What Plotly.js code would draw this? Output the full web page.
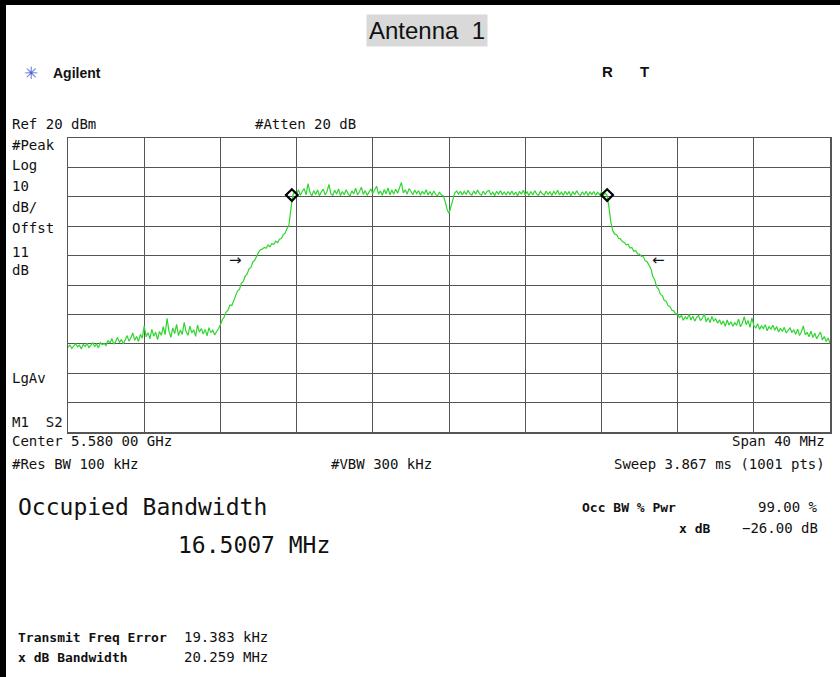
<!DOCTYPE html>
<html>
<head>
<meta charset="utf-8">
<script src="https://cdn.plot.ly/plotly-3.0.1.min.js"></script>
<style>
html,body{margin:0;padding:0;background:#fff;}
#chart{width:840px;height:677px;}
</style>
</head>
<body>
<div id="chart"></div>
<script>
// Sweep: start frequency and step (MHz) – analyzer sweep grid (Center 5.580 GHz, Span 40 MHz)
const sweepStartMHz = 5560;
const sweepStepMHz = 0.1;

// Trace levels (dBm), one per sweep point
const traceLevels = [
-51.2,-50.4,-51.6,-50.8,-49.9,-51.0,-50.5,-51.8,-50.2,-50.9,
-49.8,-51.3,-50.6,-49.7,-50.9,-50.1,-51.4,-49.6,-50.3,-49.9,
-50.6,-48.9,-49.8,-48.2,-50.1,-49.3,-47.8,-49.6,-48.5,-50.0,
-48.7,-47.2,-49.1,-48.0,-46.3,-48.8,-47.5,-49.2,-46.8,-48.1,
-43.9,-47.6,-46.2,-48.3,-45.1,-47.4,-46.0,-48.6,-45.8,-47.1,
-44.2,-46.9,-41.3,-45.7,-47.8,-44.6,-46.5,-43.4,-47.2,-45.3,
-46.8,-42.7,-45.9,-47.1,-44.0,-46.3,-45.2,-47.5,-43.6,-46.0,
-44.8,-46.7,-45.1,-47.3,-44.5,-46.2,-45.4,-47.0,-45.8,-44.9,
-43.5,-41.8,-40.9,-39.2,-38.6,-36.8,-37.0,-35.1,-33.9,-32.0,
-31.5,-29.4,-28.8,-27.0,-26.3,-24.5,-24.1,-22.2,-21.6,-20.0,
-18.9,-18.0,-17.8,-17.2,-17.5,-16.4,-17.0,-15.9,-16.2,-15.1,
-15.6,-14.4,-14.2,-12.9,-12.3,-10.8,-9.6,-4.2,0.4,
1.8,
0.9,2.4,0.5,1.9,2.8,0.7,4.5,1.5,0.3,2.1,
0.8,2.3,0.4,1.7,2.6,0.6,1.9,4.2,1.0,0.5,
2.2,0.9,2.7,0.4,1.8,0.7,2.4,1.1,0.2,2.0,
1.0,2.9,0.6,1.7,3.3,0.8,2.1,0.5,1.8,2.7,
1.1,2.4,3.6,0.9,2.0,0.5,2.5,1.0,3.0,0.7,
2.3,0.9,2.6,1.2,3.2,4.9,1.3,2.4,0.9,2.8,
1.9,0.7,2.3,1.1,2.1,0.5,1.9,0.9,2.4,0.6,
1.8,0.4,2.0,0.8,0.3,1.6,0.6,
0.4,-1.6,-4.3,-5.7,-3.6,-0.7,1.3,
2.0,0.9,1.9,0.6,1.8,0.8,
2.2,1.0,0.6,2.0,0.9,2.3,1.1,0.5,1.9,0.8,
1.8,2.2,0.6,1.6,0.4,1.9,0.9,2.1,0.6,1.7,
0.5,1.8,0.8,2.0,0.6,1.6,0.3,1.9,0.9,2.2,
0.8,1.7,0.4,1.8,0.6,2.1,0.9,0.5,1.9,1.0,
0.6,2.0,0.8,1.7,0.4,1.8,0.9,2.2,0.6,1.6,
0.5,1.9,0.8,1.7,0.3,1.8,0.7,2.1,0.9,0.5,
1.7,0.6,1.9,0.4,1.6,0.8,1.8,0.5,1.5,0.7,
1.6,0.5,1.2,
0.5,-3.6,-8.8,-11.6,-12.7,-12.9,-14.1,-14.3,-15.2,-15.5,
-16.3,-16.1,-17.4,-17.2,-18.5,-18.3,-19.4,-19.5,-20.3,-20.4,
-21.8,-22.1,-23.6,-24.5,-27.1,-28.3,-30.6,-31.4,-33.2,-33.6,
-35.3,-35.5,-37.1,-37.3,-38.6,-38.8,-39.9,-39.7,
-41.2,-40.3,-42.0,-40.8,-41.6,-39.9,-41.9,-40.6,-42.3,-41.0,
-40.4,-42.1,-41.3,-39.8,-42.5,-41.1,-42.8,-40.7,-42.2,-41.5,
-43.0,-41.8,-43.4,-42.2,-44.1,-41.9,-43.6,-42.5,-44.0,-42.8,
-43.7,-41.6,-44.2,-42.9,-40.8,-43.5,-42.1,-44.4,-41.2,-43.8,
-44.6,-43.2,-45.1,-43.9,-44.8,-43.5,-45.6,-44.2,-45.0,-43.7,
-45.4,-44.1,-46.0,-44.7,-45.8,-44.4,-46.3,-45.2,-44.6,-46.1,
-45.3,-46.8,-45.0,-47.2,-45.9,-43.9,-47.0,-46.1,-47.6,-45.7,
-47.9,-46.4,-48.3,-47.1,-46.0,-48.7,-47.5,-49.2,-48.0,-49.8
];

// Occupied bandwidth markers (MHz, dBm)
const obwMarkerFreqs = [5571.75, 5588.3];
const obwMarkerLevels = [0.6, 0.6];

// x dB arrows (MHz, dBm)
const xdbArrowFreqs = [5568.8, 5591.0];
const xdbArrowLevels = [-21.5, -21.5];
const xdbArrowGlyphs = ['\u2192', '\u2190'];

// Axis settings
const freqRange = [5560, 5600];
const levelRange = [-80, 20];

// Text labels
const leftLabels = ['#Peak', 'Log', '10', 'dB/', 'Offst', '11', 'dB'];

const W = 840, H = 677, L = 68, R = 10, T = 138, B = 245;
const PW = W - L - R, PH = H - T - B;
function px(x) { return (x - L) / PW; }
function py(y) { return (H - B - y) / PH; }

const mono = 'DejaVu Sans Mono, Liberation Mono, monospace';
const ann = [];
function txt(text, x, y, opts) {
  opts = opts || {};
  ann.push({
    xref: 'paper', yref: 'paper', x: px(x), y: py(y),
    xanchor: opts.anchor || 'left', yanchor: 'middle',
    text: text, showarrow: false,
    font: {family: opts.family || mono, size: opts.size || 14, color: opts.color || '#111'},
    bgcolor: opts.bg, borderpad: opts.pad || 0
  });
}

txt('Antenna  1', 427, 30, {anchor: 'center', family: 'Liberation Sans, Arial, sans-serif', size: 24, bg: '#d9d9d9', pad: 2});
txt('\u2733', 23, 73, {family: 'DejaVu Sans', size: 17, color: '#4f5fd0'});
txt('<b>Agilent</b>', 52, 73, {family: 'Liberation Sans, Arial, sans-serif', size: 14});
txt('<b>R</b>', 601, 72, {family: 'Liberation Sans, Arial, sans-serif', size: 15});
txt('<b>T</b>', 639, 72, {family: 'Liberation Sans, Arial, sans-serif', size: 15});
txt('Ref 20 dBm', 11, 124);
txt('#Atten 20 dB', 254, 124);
const leftY = [145, 165, 186, 207, 228, 252, 270];
leftLabels.forEach((t, i) => txt(t, 11, leftY[i]));
txt('LgAv', 11, 378);
txt('M1  S2', 11, 422);
txt('Center 5.580 00 GHz', 11, 441);
txt('Span 40 MHz', 826, 441, {anchor: 'right'});
txt('#Res BW 100 kHz', 11, 464);
txt('#VBW 300 kHz', 330, 464);
txt('Sweep 3.867 ms (1001 pts)', 826, 464, {anchor: 'right'});
txt('Occupied Bandwidth', 17, 507, {size: 23});
txt('16.5007 MHz', 177, 545, {size: 23});
txt('<b>Occ BW % Pwr</b>', 581, 507, {size: 13});
txt('99.00 %', 819, 507, {anchor: 'right'});
txt('<b>x dB</b>', 711, 528, {anchor: 'right', size: 13});
txt('\u221226.00 dB', 819, 528, {anchor: 'right'});
txt('<b>Transmit Freq Error</b>', 17, 637, {size: 13});
txt('19.383 kHz', 183, 637);
txt('<b>x dB Bandwidth</b>', 17, 657, {size: 13});
txt('20.259 MHz', 183, 657);

xdbArrowFreqs.forEach((f, i) => {
  ann.push({x: f, y: xdbArrowLevels[i], xref: 'x', yref: 'y', text: xdbArrowGlyphs[i],
    showarrow: false, font: {family: 'DejaVu Sans', size: 15, color: '#111'}});
});

const shapes = [
  {type: 'rect', xref: 'paper', yref: 'paper', x0: px(0), x1: px(6), y0: py(H), y1: py(0), fillcolor: '#000', line: {width: 0}, layer: 'above'},
  {type: 'rect', xref: 'paper', yref: 'paper', x0: px(0), x1: px(W), y0: py(5), y1: py(0), fillcolor: '#000', line: {width: 0}, layer: 'above'}
];

const gridCol = '#555555';
const axisBase = {
  showticklabels: false, ticks: '', zeroline: false, showgrid: true,
  gridcolor: gridCol, gridwidth: 1, showline: true, linecolor: gridCol,
  linewidth: 1.5, mirror: true, fixedrange: true
};

const data = [
  {type: 'scatter', mode: 'lines', x0: sweepStartMHz, dx: sweepStepMHz, y: traceLevels,
   line: {color: '#2fd62f', width: 1.2}, hoverinfo: 'skip'},
  {type: 'scatter', mode: 'markers', x: obwMarkerFreqs, y: obwMarkerLevels,
   marker: {symbol: 'diamond-open', size: 9, color: '#000', line: {width: 2.2, color: '#000'}}, hoverinfo: 'skip'}
];

const layout = {
  width: W, height: H,
  margin: {l: L, r: R, t: T, b: B, pad: 0},
  paper_bgcolor: '#fff', plot_bgcolor: '#fff',
  showlegend: false,
  xaxis: Object.assign({}, axisBase, {range: freqRange, tick0: 5560, dtick: 4}),
  yaxis: Object.assign({}, axisBase, {range: levelRange, tick0: -80, dtick: 10}),
  annotations: ann,
  shapes: shapes
};

Plotly.newPlot('chart', data, layout, {displayModeBar: false, staticPlot: true});
</script>
</body>
</html>
